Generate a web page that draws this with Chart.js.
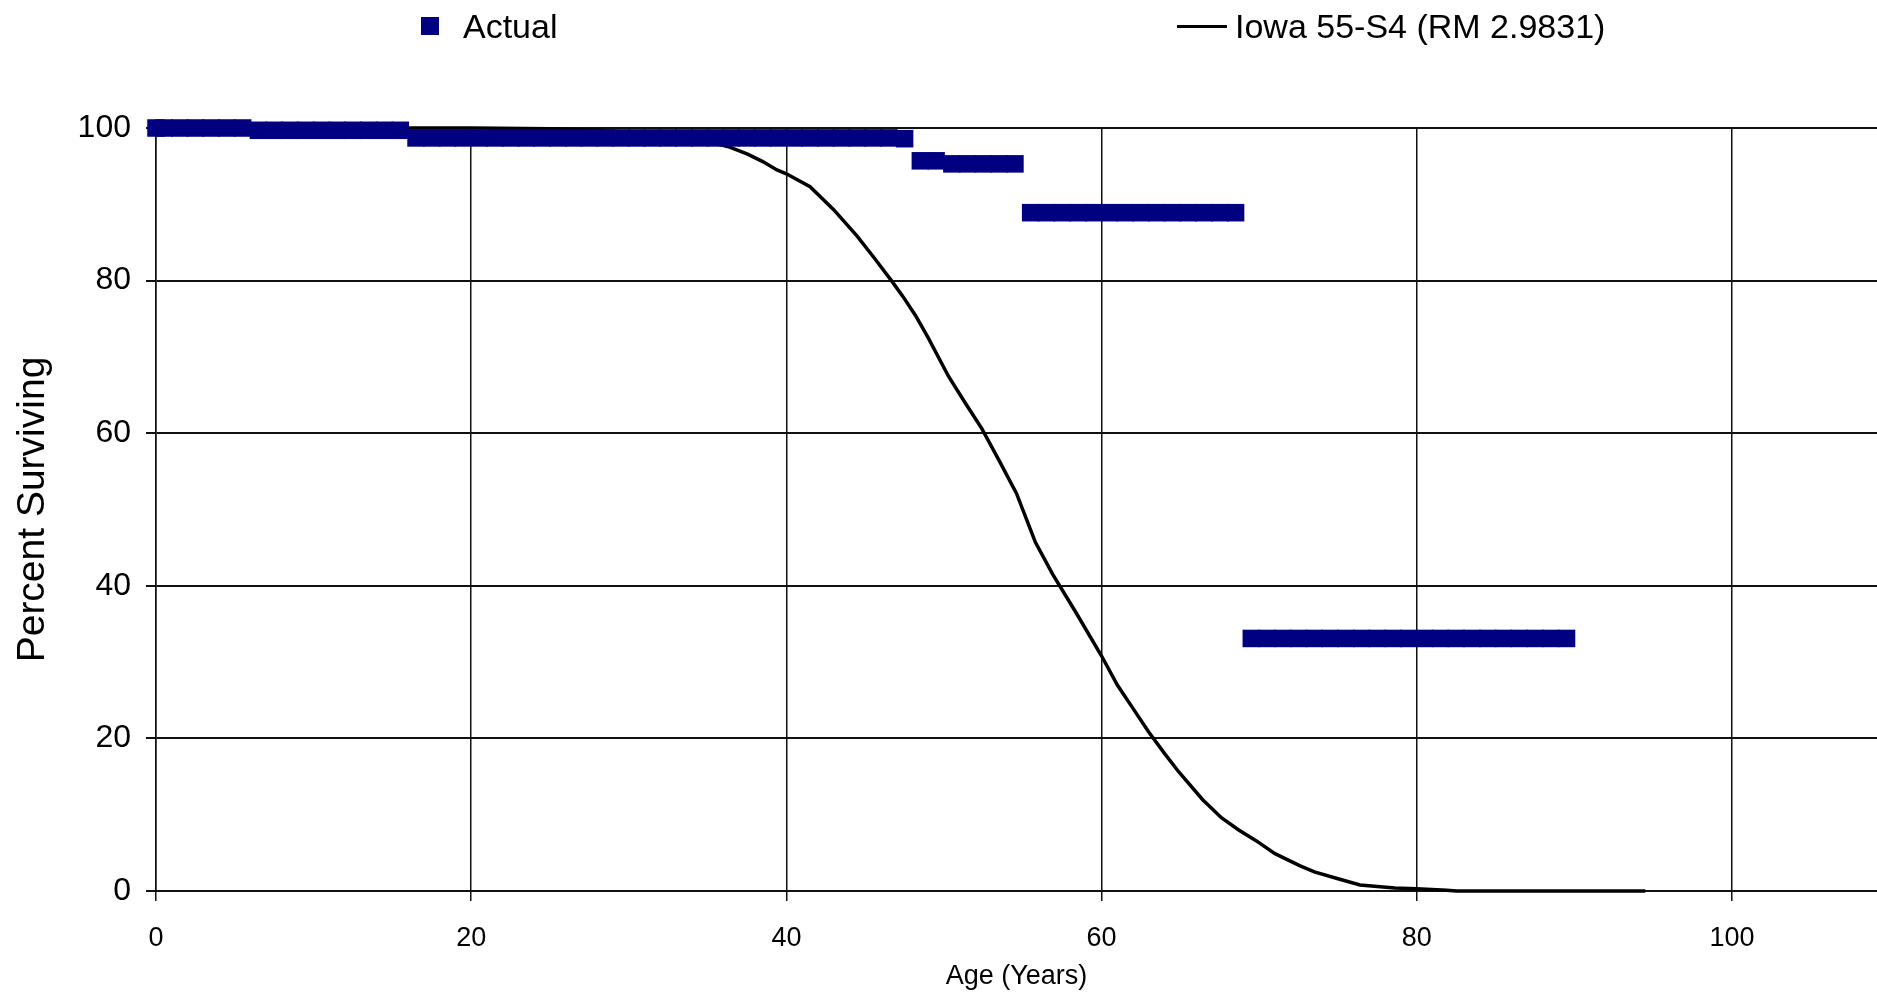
<!DOCTYPE html>
<html>
<head>
<meta charset="utf-8">
<title>Percent Surviving</title>
<script src="https://cdn.jsdelivr.net/npm/chart.js@4.4.1/dist/chart.umd.min.js"></script>
<style>
  html, body { margin: 0; padding: 0; background: #fff; overflow: hidden; }
  #wrap { position: relative; width: 1877px; height: 995px; overflow: hidden; }
  #chart { position: absolute; left: 0; top: 0; }
  .lg { position: absolute; font-family: 'Liberation Sans', Arial, sans-serif; font-size: 34px; line-height: 40px; color: #000; white-space: nowrap; }
</style>
</head>
<body>
<div id="wrap">
  <canvas id="chart" width="1877" height="995"></canvas>
  <div class="lg" style="left:421px;top:17px;width:18px;height:18px;background:#000080"></div>
  <div class="lg" style="left:463px;top:6px">Actual</div>
  <div class="lg" style="left:1177px;top:25px;width:50px;height:3px;background:#000"></div>
  <div class="lg" style="left:1235px;top:6px">Iowa 55-S4 (RM 2.9831)</div>
</div>
<script>
// observed survivors (percent) by age
const actualAges = [
    0, 0.5, 1.5, 2.5, 3.5, 4.5, 5.5, 6.5, 7.5, 8.5, 9.5, 10.5, 11.5, 12.5, 13.5, 14.5, 15.5,
    16.5, 17.5, 18.5, 19.5, 20.5, 21.5, 22.5, 23.5, 24.5, 25.5, 26.5, 27.5, 28.5, 29.5, 30.5,
    31.5, 32.5, 33.5, 34.5, 35.5, 36.5, 37.5, 38.5, 39.5, 40.5, 41.5, 42.5, 43.5, 44.5, 45.5,
    46.5, 47.5, 48.5, 49.5, 50.5, 51.5, 52.5, 53.5, 54.5, 55.5, 56.5, 57.5, 58.5, 59.5, 60.5,
    61.5, 62.5, 63.5, 64.5, 65.5, 66.5, 67.5, 68.5, 69.5, 70.5, 71.5, 72.5, 73.5, 74.5, 75.5,
    76.5, 77.5, 78.5, 79.5, 80.5, 81.5, 82.5, 83.5, 84.5, 85.5, 86.5, 87.5, 88.5, 89.5
];
const actualValues = [
    100, 100, 100, 100, 100, 100, 100, 99.7, 99.7, 99.7, 99.7, 99.7, 99.7, 99.7, 99.7, 99.7, 99.7,
    98.7, 98.7, 98.7, 98.7, 98.7, 98.7, 98.7, 98.7, 98.7, 98.7, 98.7, 98.7, 98.7, 98.7, 98.7,
    98.7, 98.7, 98.7, 98.7, 98.7, 98.7, 98.7, 98.7, 98.7, 98.7, 98.7, 98.7, 98.7, 98.7, 98.7,
    98.7, 98.6, 95.7, 95.7, 95.3, 95.3, 95.3, 95.3, 95.3, 88.9, 88.9, 88.9, 88.9, 88.9, 88.9,
    88.9, 88.9, 88.9, 88.9, 88.9, 88.9, 88.9, 88.9, 33.1, 33.1, 33.1, 33.1, 33.1, 33.1, 33.1,
    33.1, 33.1, 33.1, 33.1, 33.1, 33.1, 33.1, 33.1, 33.1, 33.1, 33.1, 33.1, 33.1, 33.1
];

// fitted Iowa 55-S4 curve
const curveAges = [
    0, 10, 20, 25, 28, 31, 34, 36.4, 37.5, 38.5, 39.4, 40, 41.5, 43, 44.5, 45.6, 46.7, 47.4,
    48.2, 49, 50.3, 51.4, 52.4, 53.5, 54.6, 55.8, 56.9, 58.4, 60, 61, 62, 63, 64, 64.9, 66.4,
    67.6, 68.7, 69.8, 71, 72.6, 73.5, 75, 76.4, 78.6, 80, 81.9, 82.5, 94.5
];
const curveValues = [
    100, 100, 100, 99.9, 99.7, 99.3, 98.7, 97.5, 96.6, 95.6, 94.5, 94.0, 92.3, 89.3, 85.8, 82.9, 79.9, 77.9,
    75.4, 72.5, 67.4, 63.8, 60.6, 56.4, 52.1, 45.7, 41.5, 36.4, 30.8, 27.0, 23.9, 20.8, 18.0, 15.6, 12.0,
    9.6, 8.0, 6.6, 4.9, 3.3, 2.5, 1.6, 0.8, 0.4, 0.3, 0.1, 0, 0
];

const xTicks = [0, 20, 40, 60, 80, 100];
const yTicks = [0, 20, 40, 60, 80, 100];

const font = 'Liberation Sans';

new Chart(document.getElementById('chart'), {
    type: 'scatter',
    data: {
        datasets: [{
            label: 'Actual',
            data: actualAges.map((a, i) => ({ x: a, y: actualValues[i] })),
            showLine: false,
            pointStyle: 'rect',
            pointRadius: 12.4,
            pointBorderWidth: 0,
            backgroundColor: '#000080',
            borderColor: '#000080',
            clip: false
        }, {
            label: 'Iowa 55-S4 (RM 2.9831)',
            data: curveAges.map((a, i) => ({ x: a, y: curveValues[i] })),
            showLine: true,
            pointRadius: 0,
            borderColor: '#000',
            borderWidth: 3.5,
            tension: 0,
            clip: false
        }]
    },
    options: {
        responsive: false,
        animation: false,
        devicePixelRatio: 1,
        layout: { autoPadding: false, padding: { top: 128, right: 0, bottom: 0, left: 0 } },
        plugins: {
            legend: { display: false },
            tooltip: { enabled: false }
        },
        scales: {
            x: {
                type: 'linear',
                min: 0,
                max: 109.2,
                afterBuildTicks: s => { s.ticks = xTicks.map(v => ({ value: v })); },
                afterFit: s => { s.height = 104; s.paddingRight = 0; s.paddingLeft = 0; },
                grid: { color: '#111', lineWidth: 1.5, tickLength: 10 },
                border: { color: '#111', width: 2 },
                ticks: { color: '#000', font: { family: font, size: 27 }, padding: 21, maxRotation: 0 },
                title: {
                    display: true,
                    text: 'Age (Years)',
                    color: '#000',
                    font: { family: font, size: 27 },
                    padding: { top: 0, bottom: 2 }
                }
            },
            y: {
                min: 0,
                max: 100,
                afterBuildTicks: s => { s.ticks = yTicks.map(v => ({ value: v })); },
                afterFit: s => { s.width = 156; },
                grid: { color: '#111', lineWidth: 2, tickLength: 10 },
                border: { color: '#111', width: 1.5 },
                ticks: { color: '#000', font: { family: font, size: 32 }, padding: 15 },
                title: {
                    display: true,
                    text: 'Percent Surviving',
                    color: '#000',
                    font: { family: font, size: 39 },
                    padding: { top: 10, bottom: 0 }
                }
            }
        }
    }
});
</script>
</body>
</html>
